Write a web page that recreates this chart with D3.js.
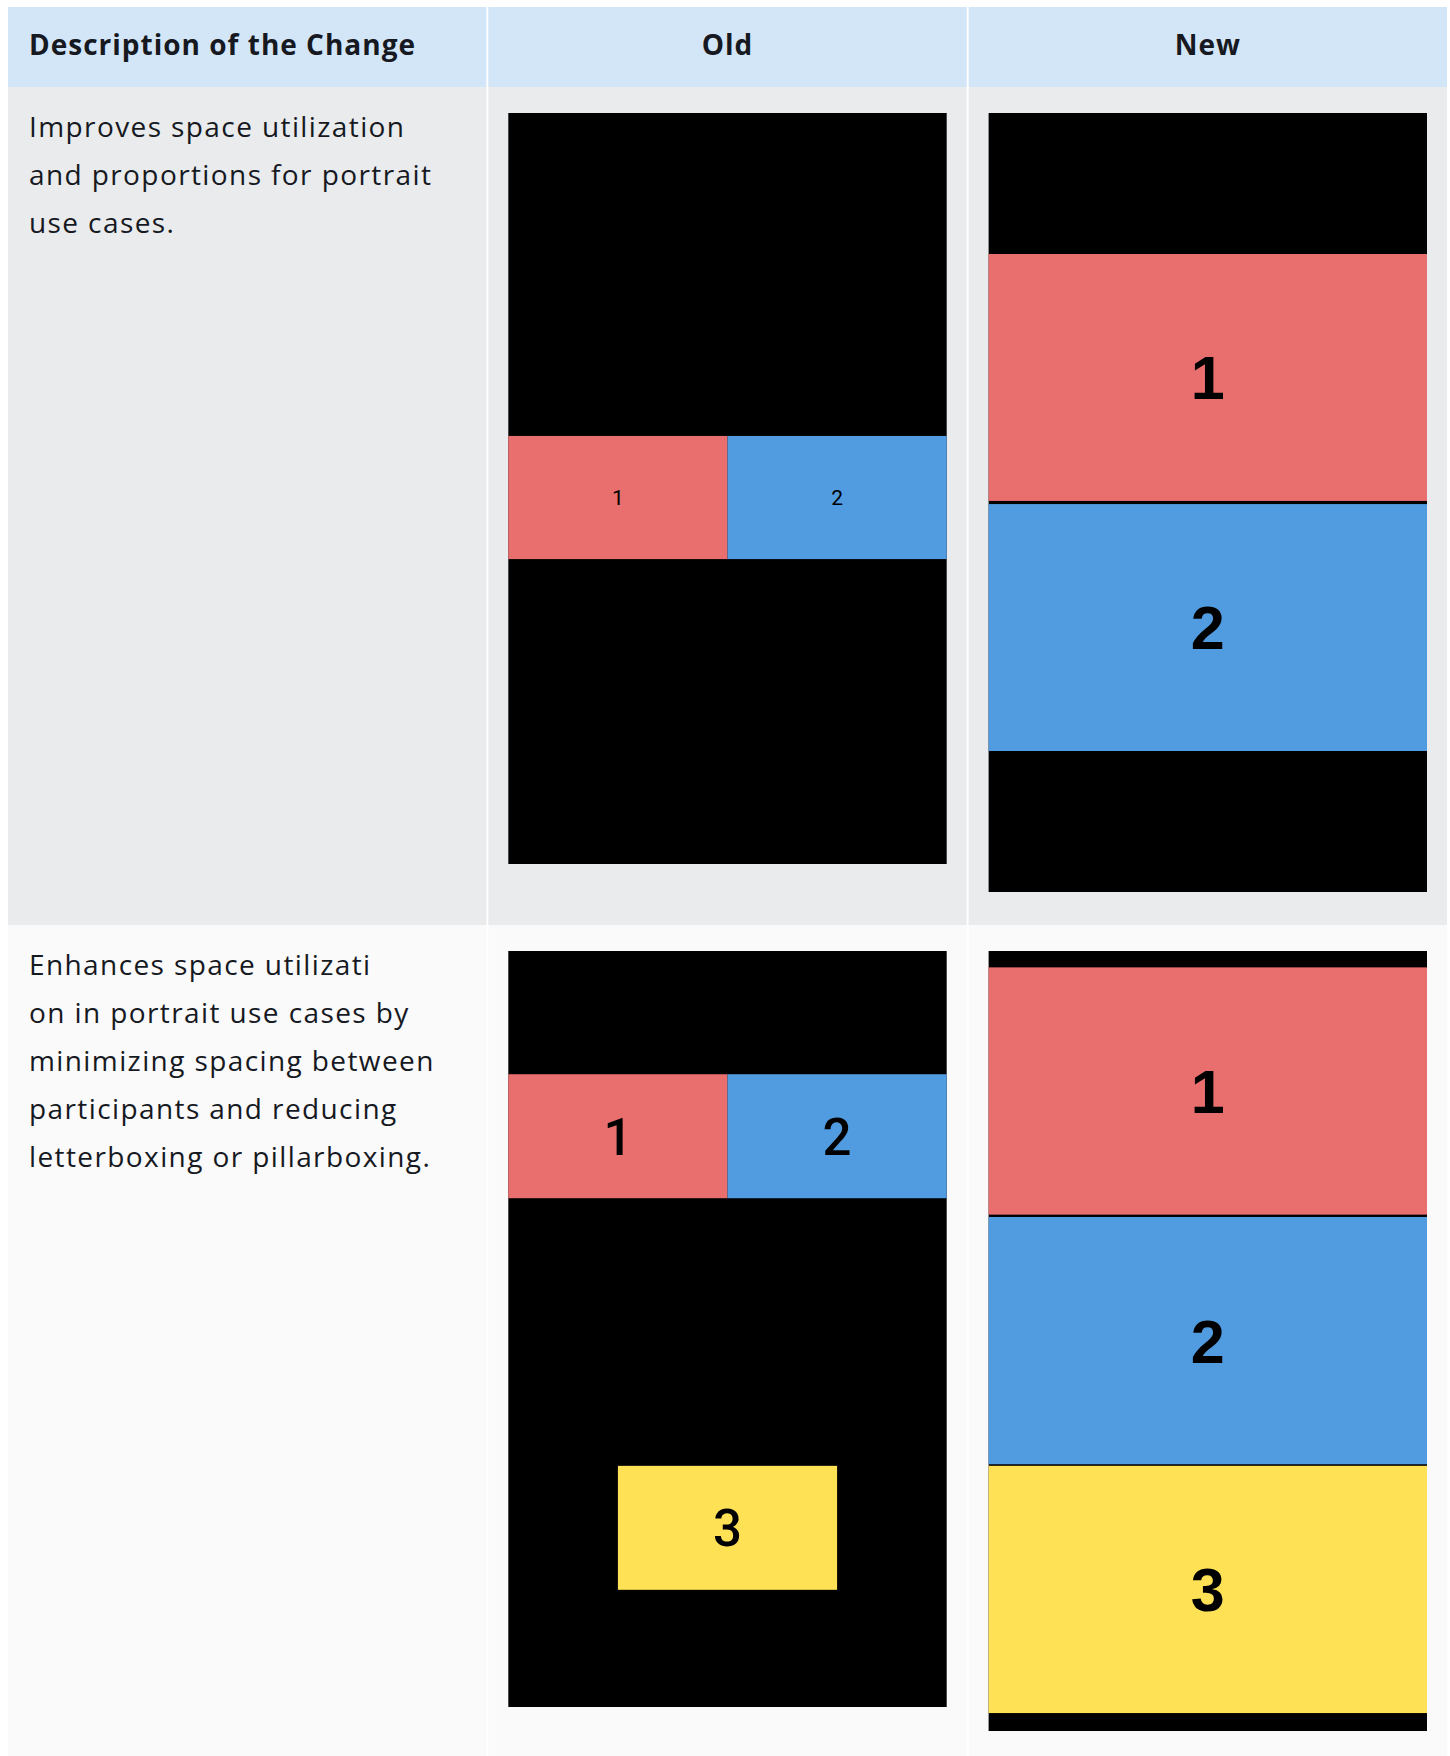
<!DOCTYPE html>
<html>
<head>
<meta charset="utf-8">
<script src="https://cdn.jsdelivr.net/npm/d3@7"></script>
<style>
  body { margin: 0; background: #ffffff; }
  .header-text { font-family: "Open Sans", sans-serif; font-weight: 700; font-size: 28px; letter-spacing: 1px; fill: #16191f; }
  .body-text { font-family: "Open Sans", sans-serif; font-weight: 400; font-size: 28px; letter-spacing: 1.4px; fill: #16191f; }
  .tile-label { fill: #000000; text-anchor: middle; }
</style>
</head>
<body>
<div id="wrapper"></div>
<script>
// data
const columns = ["Description of the Change", "Old", "New"]

const descriptions = [
  ["Improves space utilization", "and proportions for portrait", "use cases."],
  [
    "Enhances space utilizati",
    "on in portrait use cases by",
    "minimizing spacing between",
    "participants and reducing",
    "letterboxing or pillarboxing.",
  ],
]

const participantIds = ["1", "2", "3"]
const participantColors = ["#e96e6e", "#519be0", "#fee155"]

// tile extents as fractions of the screen frame
const oldTwoTiles = [
  { id: "1", x0: 0, x1: 0.5, y0: 0.43, y1: 0.594 },
  { id: "2", x0: 0.5, x1: 1, y0: 0.43, y1: 0.594 },
]
const newTwoTiles = [
  { id: "1", x0: 0, x1: 1, y0: 0.181, y1: 0.498 },
  { id: "2", x0: 0, x1: 1, y0: 0.502, y1: 0.819 },
]
const oldThreeTiles = [
  { id: "1", x0: 0, x1: 0.5, y0: 0.163, y1: 0.327 },
  { id: "2", x0: 0.5, x1: 1, y0: 0.163, y1: 0.327 },
  { id: "3", x0: 0.25, x1: 0.75, y0: 0.681, y1: 0.845 },
]
const newThreeTiles = [
  { id: "1", x0: 0, x1: 1, y0: 0.021, y1: 0.338 },
  { id: "2", x0: 0, x1: 1, y0: 0.341, y1: 0.658 },
  { id: "3", x0: 0, x1: 1, y0: 0.66, y1: 0.977 },
]

const drawChart = () => {
  // 1) Dimensions
  const dimensions = {
    width: 1450,
    height: 1756,
    tableLeft: 8,
    tableRight: 1447,
    tableTop: 7,
    headerHeight: 80,
    rowHeights: [838, 840],
    framePadTop: 26,
    framePadX: 20,
    textPadX: 21,
    lineHeight: 48,
  }

  const panels = [
    { row: 0, col: "Old", tiles: oldTwoTiles, frameHeight: 751, font: "Roboto", weight: 400, size: 21 },
    { row: 0, col: "New", tiles: newTwoTiles, frameHeight: 779, font: "Liberation Sans", weight: 700, size: 61 },
    { row: 1, col: "Old", tiles: oldThreeTiles, frameHeight: 756, font: "Roboto", weight: 500, size: 51 },
    { row: 1, col: "New", tiles: newThreeTiles, frameHeight: 780, font: "Liberation Sans", weight: 700, size: 61 },
  ]

  const rowBackgrounds = ["#e9ebed", "#fafafa"]

  // 2) Canvas
  const wrapper = d3
    .select("#wrapper")
    .append("svg")
    .attr("width", dimensions.width)
    .attr("height", dimensions.height)

  // 3) Scales
  const columnScale = d3
    .scaleBand()
    .domain(columns)
    .range([dimensions.tableLeft, dimensions.tableRight])
    .paddingInner(0.004)

  const rowTops = [dimensions.tableTop + dimensions.headerHeight]
  rowTops.push(rowTops[0] + dimensions.rowHeights[0])

  const colorScale = d3.scaleOrdinal().domain(participantIds).range(participantColors)

  // 4) Table cells
  const header = wrapper.append("g")
  header
    .selectAll("rect")
    .data(columns)
    .join("rect")
    .attr("x", (d) => columnScale(d))
    .attr("y", dimensions.tableTop)
    .attr("width", columnScale.bandwidth())
    .attr("height", dimensions.headerHeight)
    .attr("fill", "#d3e6f7")

  header
    .selectAll("text")
    .data(columns)
    .join("text")
    .attr("class", "header-text")
    .attr("x", (d, i) =>
      i === 0
        ? columnScale(d) + dimensions.textPadX
        : columnScale(d) + columnScale.bandwidth() / 2
    )
    .attr("y", dimensions.tableTop + 48)
    .style("text-anchor", (d, i) => (i === 0 ? "start" : "middle"))
    .text((d) => d)

  descriptions.forEach((lines, rowIndex) => {
    const rowGroup = wrapper.append("g")
    rowGroup
      .selectAll("rect")
      .data(columns)
      .join("rect")
      .attr("x", (d) => columnScale(d))
      .attr("y", rowTops[rowIndex])
      .attr("width", columnScale.bandwidth())
      .attr("height", dimensions.rowHeights[rowIndex])
      .attr("fill", rowBackgrounds[rowIndex])

    rowGroup
      .selectAll("text")
      .data(lines)
      .join("text")
      .attr("class", "body-text")
      .attr("x", columnScale(columns[0]) + dimensions.textPadX)
      .attr("y", (d, i) => rowTops[rowIndex] + 50 + i * dimensions.lineHeight)
      .text((d) => d)
  })

  // 5) Screen frames with participant tiles
  panels.forEach((panel) => {
    const left = columnScale(panel.col) + dimensions.framePadX
    const top = rowTops[panel.row] + dimensions.framePadTop
    const frameWidth = columnScale.bandwidth() - dimensions.framePadX * 2

    const xScale = d3.scaleLinear().domain([0, 1]).range([left, left + frameWidth])
    const yScale = d3.scaleLinear().domain([0, 1]).range([top, top + panel.frameHeight])

    const frame = wrapper.append("g")
    frame
      .append("rect")
      .attr("x", xScale(0))
      .attr("y", yScale(0))
      .attr("width", xScale(1) - xScale(0))
      .attr("height", yScale(1) - yScale(0))
      .attr("fill", "#000000")

    frame
      .selectAll("rect.tile")
      .data(panel.tiles)
      .join("rect")
      .attr("class", "tile")
      .attr("x", (d) => xScale(d.x0))
      .attr("y", (d) => yScale(d.y0))
      .attr("width", (d) => xScale(d.x1) - xScale(d.x0))
      .attr("height", (d) => yScale(d.y1) - yScale(d.y0))
      .attr("fill", (d) => colorScale(d.id))

    frame
      .selectAll("text")
      .data(panel.tiles)
      .join("text")
      .attr("class", "tile-label")
      .attr("x", (d) => xScale((d.x0 + d.x1) / 2))
      .attr("y", (d) => yScale((d.y0 + d.y1) / 2) + panel.size * 0.36)
      .style("font-family", panel.font)
      .style("font-weight", panel.weight)
      .style("font-size", `${panel.size}px`)
      .text((d) => d.id)
  })
}

drawChart()
</script>
</body>
</html>
